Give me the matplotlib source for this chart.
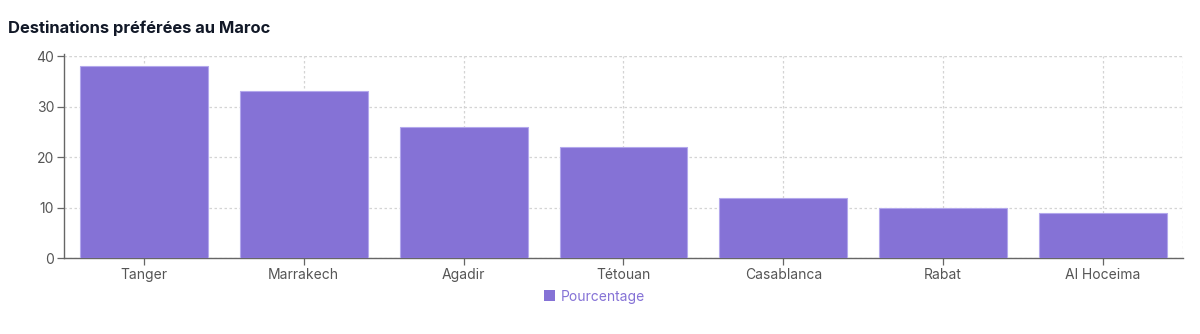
import matplotlib
matplotlib.use("Agg")
import matplotlib.pyplot as plt
from matplotlib.patches import Patch

plt.rcParams['font.family'] = ['Inter', 'DejaVu Sans']

# Data
villes = ['Tanger', 'Marrakech', 'Agadir', 'Tétouan', 'Casablanca', 'Rabat', 'Al Hoceima']
pourcentage = [38, 33, 26, 22, 12, 10, 9]
y_ticks = [0, 10, 20, 30, 40]

bar_color = '#8572d6'
axis_color = '#666666'
grid_color = '#d4d4d4'
dash = (0, (2, 2))

fig = plt.figure(figsize=(12, 3.34), dpi=100)
ax = fig.add_axes([0.0533, 0.2266, 0.9325, 0.6057])

x = list(range(len(villes)))
ax.bar(x, pourcentage, width=0.8, color=bar_color, edgecolor='#b3a8ec', linewidth=0.8, zorder=3)

ax.set_xlim(-0.5, len(villes) - 0.5)
ax.set_ylim(0, 40)
ax.set_xticks(x)
ax.set_xticklabels(villes)
ax.set_yticks(y_ticks)

# dotted grid, including the outer top/right edges
ax.grid(True, linestyle=dash, color=grid_color, linewidth=0.9, zorder=0)
ax.axvline(len(villes) - 0.5, linestyle=dash, color=grid_color, linewidth=0.9, zorder=0)
ax.axhline(40, linestyle=dash, color=grid_color, linewidth=0.9, zorder=0)

for side in ['top', 'right']:
    ax.spines[side].set_visible(False)
for side in ['left', 'bottom']:
    ax.spines[side].set_color(axis_color)
    ax.spines[side].set_linewidth(1)
ax.spines['left'].set_bounds(0, 40.3)

ax.tick_params(axis='both', colors=axis_color, labelcolor='#555555', labelsize=10,
               length=5, width=0.9, pad=2)

fig.text(0.007, 0.916, 'Destinations préférées au Maroc', fontsize=11.9,
         fontweight='bold', color='#111827', va='center', ha='left')

handles = [Patch(facecolor=bar_color, edgecolor='none', label='Pourcentage')]
leg = fig.legend(handles=handles, loc='center', bbox_to_anchor=(0.4955, 0.112),
                 frameon=False, fontsize=10, handlelength=0.8, handleheight=0.8,
                 handletextpad=0.4)
for t in leg.get_texts():
    t.set_color(bar_color)

fig.savefig('out.png', dpi=100)
